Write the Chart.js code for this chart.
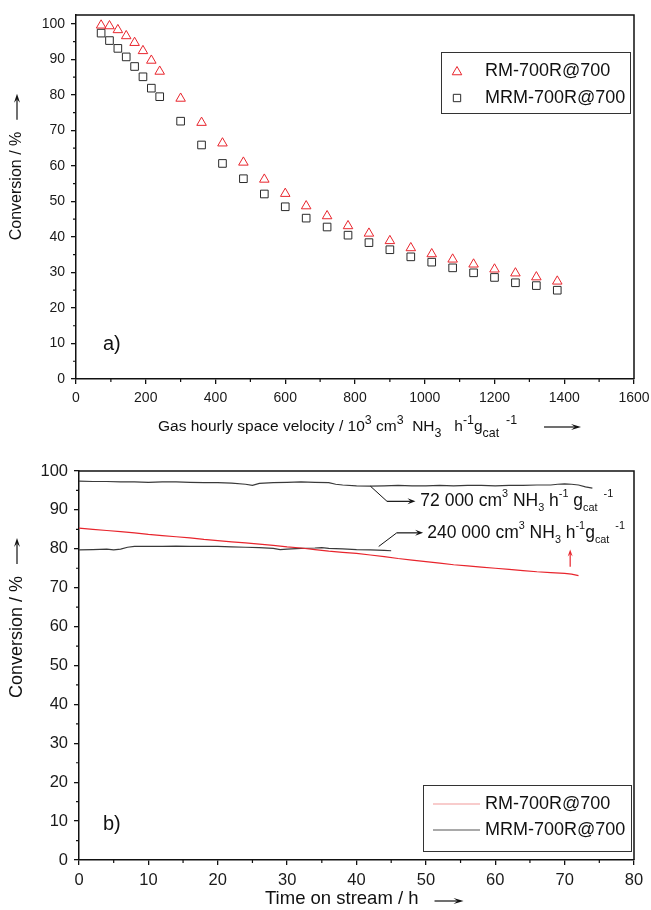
<!DOCTYPE html>
<html><head><meta charset="utf-8">
<script src="https://cdn.jsdelivr.net/npm/chart.js@4/dist/chart.umd.min.js"></script>
<style>
html,body{margin:0;padding:0;background:#fff;width:651px;height:910px;overflow:hidden;}
canvas{position:absolute;left:0;}
</style></head><body>
<canvas id="c1" width="651" height="445" style="top:0"></canvas>
<canvas id="c2" width="651" height="465" style="top:445px"></canvas>
<script>
// ---------- data: panel a ----------
const gsv = [72,96,120,144,168,192,216,240,300,360,420,480,540,600,660,720,780,840,900,960,1020,1080,1140,1200,1260,1320,1380];
const rmConv = [99.6,99.4,98.3,96.6,94.7,92.4,89.7,86.6,79.0,72.2,66.4,61.0,56.2,52.2,48.7,45.9,43.1,41.0,38.9,36.9,35.2,33.7,32.3,30.9,29.8,28.7,27.5];
const mrmConv = [97.4,95.3,93.1,90.7,88.0,85.1,81.9,79.5,72.6,65.9,60.7,56.4,52.1,48.5,45.3,42.8,40.5,38.4,36.4,34.4,32.9,31.3,29.9,28.6,27.1,26.3,25.0];
const xTicksA = [0,200,400,600,800,1000,1200,1400,1600];
const yTicks = [0,10,20,30,40,50,60,70,80,90,100];
// ---------- data: panel b ----------
const tRM = [0,2,4,6,8,10,12,14,16,18,20,22,24,26,28,30,32,34,36,38,40,42,44,46,48,50,52,54,56,58,60,62,64,66,68,70,71,72];
const rmTime = [85.3,85.0,84.7,84.4,84.1,83.7,83.4,83.1,82.8,82.4,82.1,81.8,81.5,81.2,80.9,80.5,80.2,79.8,79.4,79.1,78.8,78.4,78.0,77.5,77.1,76.7,76.3,75.9,75.6,75.3,75.0,74.7,74.4,74.1,73.9,73.7,73.5,73.1];
const tHigh = [0,2,4,6,8,10,12,14,16,18,20,22,24,25,26,28,30,32,34,36,37,38,40,42,44,46,48,50,52,54,56,58,60,62,64,66,68,69,70,71,72,73,74];
const mrmHigh = [97.4,97.3,97.3,97.2,97.2,97.1,97.2,97.2,97.1,97.0,97.0,96.9,96.6,96.3,96.8,97.0,97.1,97.2,97.1,97.0,96.6,96.4,96.2,96.1,96.2,96.3,96.2,96.2,96.3,96.2,96.3,96.3,96.2,96.3,96.3,96.4,96.4,96.6,96.7,96.6,96.4,95.9,95.6];
const tLow = [0,2,4,5,6,7,8,10,12,14,16,18,20,22,24,26,28,29,30,32,34,35,36,38,40,42,44,45];
const mrmLow = [79.7,79.8,79.9,79.7,79.9,80.4,80.6,80.6,80.6,80.7,80.6,80.6,80.6,80.5,80.4,80.3,80.1,79.8,79.9,80.1,80.2,80.3,80.1,80.0,79.8,79.7,79.6,79.5];
const xTicksB = [0,10,20,30,40,50,60,70,80];

const FONT = '"Liberation Sans", Arial, sans-serif';
const RED = '#e8252d';
const DARK = '#2a2a2a';

function drawRich(ctx, x, y, segs, size, color, small){
  const f = small || 0.62;
  ctx.save(); ctx.fillStyle=color||'#111'; ctx.textBaseline='middle'; ctx.textAlign='left';
  for(const [t,k] of segs){
    const s = k? size*f : size;
    ctx.font = s+'px '+FONT;
    const dy = k==='sup' ? -size*0.42 : (k==='sub' ? size*0.4 : 0);
    ctx.fillText(t, x, y+dy);
    x += ctx.measureText(t).width;
  }
  ctx.restore();
  return x;
}
function drawArrow(ctx, x1, y1, x2, y2, color, head, half){
  ctx.save(); ctx.strokeStyle=color; ctx.fillStyle=color; ctx.lineWidth=1.2;
  const a=Math.atan2(y2-y1,x2-x1);
  ctx.beginPath(); ctx.moveTo(x1,y1); ctx.lineTo(x2-Math.cos(a)*head*0.6,y2-Math.sin(a)*head*0.6); ctx.stroke();
  ctx.beginPath(); ctx.moveTo(x2,y2);
  ctx.lineTo(x2-Math.cos(a)*head-Math.sin(a)*half, y2-Math.sin(a)*head+Math.cos(a)*half);
  ctx.lineTo(x2-Math.cos(a)*head*0.6, y2-Math.sin(a)*head*0.6);
  ctx.lineTo(x2-Math.cos(a)*head+Math.sin(a)*half, y2-Math.sin(a)*head-Math.cos(a)*half);
  ctx.closePath(); ctx.fill();
  ctx.restore();
}
function frameAndMinor(chart, xMinor, yMinor){
  const ctx=chart.ctx, a=chart.chartArea, xs=chart.scales.x, ys=chart.scales.y;
  ctx.save(); ctx.strokeStyle='#111'; ctx.lineWidth=1.5;
  ctx.beginPath(); ctx.moveTo(a.left,a.top); ctx.lineTo(a.right,a.top); ctx.lineTo(a.right,a.bottom); ctx.stroke();
  ctx.lineWidth=1.2; ctx.beginPath();
  for(const v of xMinor){ const p=xs.getPixelForValue(v); ctx.moveTo(p,a.bottom); ctx.lineTo(p,a.bottom+3); }
  for(const v of yMinor){ const p=ys.getPixelForValue(v); ctx.moveTo(a.left,p); ctx.lineTo(a.left-3,p); }
  ctx.stroke(); ctx.restore();
}
function yTitle(ctx, cx, cy, size){
  ctx.save(); ctx.translate(cx, cy); ctx.rotate(-Math.PI/2);
  ctx.font=size+'px '+FONT; ctx.fillStyle='#111'; ctx.textBaseline='middle'; ctx.textAlign='left';
  const txt='Conversion / %'; const w=ctx.measureText(txt).width;
  const total=w+12+26; let x=-total/2;
  ctx.fillText(txt,x,0);
  drawArrow(ctx, x+w+12, 0, x+w+38, 0, '#111', 9, 3);
  ctx.restore();
}
function legendPoint(ctx, style, r, color, x, y){
  ctx.save(); ctx.strokeStyle=color; ctx.fillStyle='rgba(0,0,0,0)'; ctx.lineWidth=1;
  Chart.helpers.drawPoint(ctx,{pointStyle:style,radius:r,borderWidth:1,rotation:0},x,y);
  ctx.restore();
}
function axisCommon(ticksArr, sizeKey, size, pad, fontSize){
  return {
    type:'linear',
    afterBuildTicks(s){ s.ticks = ticksArr.map(v=>({value:v})); },
    ticks:{ font:{family:FONT,size:fontSize}, color:'#1a1a1a', padding:pad, maxRotation:0, autoSkip:false, callback:v=>String(v) },
    grid:{ drawOnChartArea:false, drawTicks:true, tickLength:5, color:'#111', lineWidth:1.3 },
    border:{ display:true, color:'#111', width:1.5 },
    afterFit(s){ s[sizeKey]=size; s.paddingLeft=0; s.paddingRight=0; s.paddingTop=0; s.paddingBottom=0; }
  };
}

// ---------- chart a ----------
const pluginA = {
  id:'decorA',
  afterDraw(chart){
    const ctx=chart.ctx;
    frameAndMinor(chart,[100,300,500,700,900,1100,1300,1500],[5,15,25,35,45,55,65,75,85,95]);
    const ds=chart.data.datasets;
    ctx.save(); ctx.strokeStyle='#333'; ctx.lineWidth=1;
    ctx.strokeRect(441.5,52.5,189,61);
    ctx.restore();
    legendPoint(ctx,'triangle',5.5,ds[0].borderColor,457,72);
    legendPoint(ctx,'rect',5.2,ds[1].borderColor,457,98);
    ctx.save(); ctx.font='18px '+FONT; ctx.fillStyle='#111'; ctx.textBaseline='middle';
    ctx.fillText(ds[0].label,485,71); ctx.fillText(ds[1].label,485,98);
    ctx.font='20px '+FONT; ctx.fillText('a)',103,344);
    ctx.restore();
    yTitle(ctx,17,167,16);
    const segs=[['Gas hourly space velocity / 10',''],['3','sup'],[' cm',''],['3','sup'],['  NH',''],['3','sub'],['   h',''],['-1','sup'],['g',''],['cat','sub'],['  -1','sup']];
    const xe=drawRich(ctx,158,427,segs,15.5,'#111',0.8);
    drawArrow(ctx,xe+27,427,xe+64,427,'#111',10,3);
  }
};
new Chart(document.getElementById('c1'),{
  type:'scatter',
  data:{datasets:[
    {label:'RM-700R@700', data:gsv.map((x,i)=>({x,y:rmConv[i]})), pointStyle:'triangle', pointRadius:5.5, pointBorderWidth:1, borderColor:RED, backgroundColor:'rgba(0,0,0,0)'},
    {label:'MRM-700R@700', data:gsv.map((x,i)=>({x,y:mrmConv[i]})), pointStyle:'rect', pointRadius:5.4, pointBorderWidth:1, borderColor:DARK, backgroundColor:'rgba(0,0,0,0)'}
  ]},
  options:{
    responsive:false, animation:false, events:[],
    layout:{padding:{top:15,right:17,left:0,bottom:0}},
    plugins:{legend:{display:false},tooltip:{enabled:false}},
    scales:{
      x:Object.assign(axisCommon(xTicksA,'height',66,6,14),{min:0,max:1600}),
      y:Object.assign(axisCommon(yTicks,'width',76,6,14),{min:0,max:102.5})
    }
  },
  plugins:[pluginA]
});

// ---------- chart b ----------
const pluginB = {
  id:'decorB',
  afterDraw(chart){
    const ctx=chart.ctx, xs=chart.scales.x, ys=chart.scales.y;
    frameAndMinor(chart,[5,15,25,35,45,55,65,75],[5,15,25,35,45,55,65,75,85,95]);
    const X=v=>xs.getPixelForValue(v), Y=v=>ys.getPixelForValue(v);
    ctx.save(); ctx.strokeStyle='#111'; ctx.lineWidth=1;
    ctx.beginPath(); ctx.moveTo(X(42),Y(96.1)); ctx.lineTo(X(44.4),Y(92.2)); ctx.stroke(); ctx.restore();
    drawArrow(ctx,X(44.4),Y(92.2),X(48.5),Y(92.2),'#111',8,3);
    drawRich(ctx,X(49.2),Y(92.2),[['72 000 cm',''],['3','sup'],[' NH',''],['3','sub'],[' h',''],['-1','sup'],[' g',''],['cat','sub'],['  -1','sup']],17.5,'#111');
    ctx.save(); ctx.strokeStyle='#111'; ctx.lineWidth=1;
    ctx.beginPath(); ctx.moveTo(X(43.2),Y(80.6)); ctx.lineTo(X(45.8),Y(84.1)); ctx.stroke(); ctx.restore();
    drawArrow(ctx,X(45.8),Y(84.1),X(49.6),Y(84.1),'#111',8,3);
    drawRich(ctx,X(50.2),Y(84.1),[['240 000 cm',''],['3','sup'],[' NH',''],['3','sub'],[' h',''],['-1','sup'],['g',''],['cat','sub'],['  -1','sup']],17.5,'#111');
    drawArrow(ctx,X(70.8),Y(75.4),X(70.8),Y(79.8),RED,7,2.5);
    const ds=chart.data.datasets;
    ctx.save(); ctx.strokeStyle='#333'; ctx.lineWidth=1;
    ctx.strokeRect(423.5,340.5,208,66);
    ctx.lineWidth=1.2;
    ctx.strokeStyle='#f29a9a'; ctx.beginPath(); ctx.moveTo(433,359); ctx.lineTo(480,359); ctx.stroke();
    ctx.strokeStyle='#555'; ctx.beginPath(); ctx.moveTo(433,385); ctx.lineTo(480,385); ctx.stroke();
    ctx.font='18px '+FONT; ctx.fillStyle='#111'; ctx.textBaseline='middle';
    ctx.fillText(ds[0].label,485,359); ctx.fillText(ds[1].label,485,385);
    ctx.font='20px '+FONT; ctx.fillText('b)',103,379);
    ctx.restore();
    yTitle(ctx,17,173,18);
    ctx.save(); ctx.font='18.5px '+FONT; ctx.fillStyle='#111'; ctx.textBaseline='middle';
    const t='Time on stream / h'; ctx.fillText(t,265,454); const w=ctx.measureText(t).width;
    ctx.restore();
    drawArrow(ctx,265+w+16,456,265+w+45,456,'#111',10,3);
  }
};
new Chart(document.getElementById('c2'),{
  type:'scatter',
  data:{datasets:[
    {label:'RM-700R@700', data:tRM.map((x,i)=>({x,y:rmTime[i]})), showLine:true, pointRadius:0, borderColor:RED, borderWidth:1.2},
    {label:'MRM-700R@700', data:tHigh.map((x,i)=>({x,y:mrmHigh[i]})), showLine:true, pointRadius:0, borderColor:'#3a3a3a', borderWidth:1.2},
    {label:'MRM-700R@700 (240 000)', data:tLow.map((x,i)=>({x,y:mrmLow[i]})), showLine:true, pointRadius:0, borderColor:'#3a3a3a', borderWidth:1.2}
  ]},
  options:{
    responsive:false, animation:false, events:[],
    layout:{padding:{top:26,right:17,left:0,bottom:0}},
    plugins:{legend:{display:false},tooltip:{enabled:false}},
    scales:{
      x:Object.assign(axisCommon(xTicksB,'height',50,6,16.5),{min:0,max:80}),
      y:Object.assign(axisCommon(yTicks,'width',79,6,16.5),{min:0,max:100})
    }
  },
  plugins:[pluginB]
});
</script>
</body></html>
